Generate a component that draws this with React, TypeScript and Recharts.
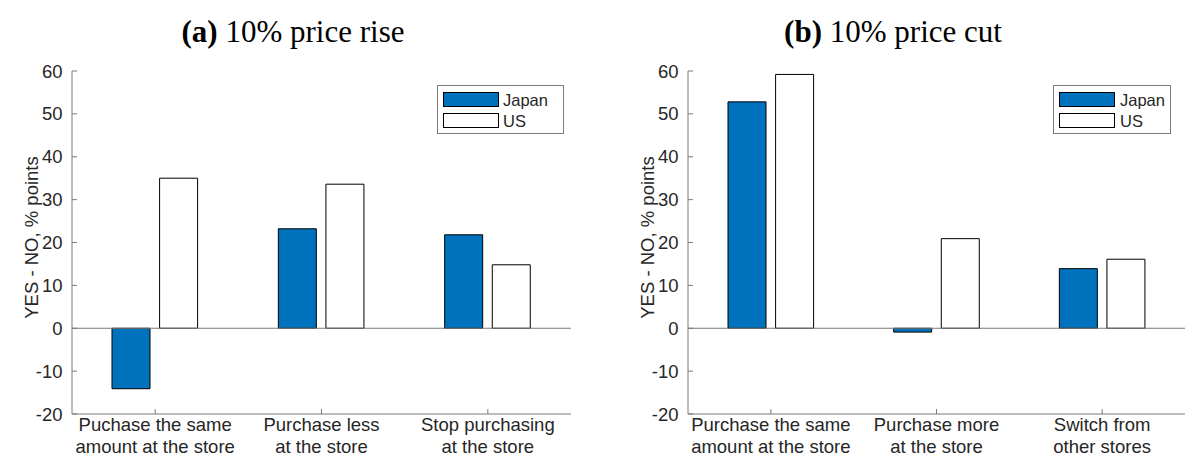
import React from 'react';
import { BarChart, Bar, XAxis, YAxis, ReferenceLine, Legend } from 'recharts';

// ---------- data ----------
const categoriesRise = ['Puchase the same\namount at the store', 'Purchase less\nat the store', 'Stop purchasing\nat the store'];
const japanRise = [-14.1, 23.2, 21.8];
const usRise = [35.0, 33.6, 14.8];

const categoriesCut = ['Purchase the same\namount at the store', 'Purchase more\nat the store', 'Switch from\nother stores'];
const japanCut = [52.8, -0.9, 13.9];
const usCut = [59.2, 20.9, 16.1];

const yTicks = [-20, -10, 0, 10, 20, 30, 40, 50, 60];
const yDomain = [-20, 60];
const seriesNames = ['Japan', 'US'];
const panelTags = ['(a)', '(b)'];
const panelTitles = ['10% price rise', '10% price cut'];
const yLabel = 'YES - NO, % points';

// ---------- style ----------
const SANS = '"Liberation Sans", Arial, Helvetica, sans-serif';
const SERIF = '"Liberation Serif", "Times New Roman", serif';
const AXIS = '#7a7a7a';
const TEXT = '#262626';
const JAPAN = '#0072BD';
const FS = 18.5;

const buildRows = (cats: string[], jp: number[], us: number[]) =>
  cats.map((c, i) => ({ name: c, japan: jp[i], us: us[i] }));

const XTick = (props: any) => {
  const { x, y, payload } = props;
  const lines = String(payload.value).split('\n');
  return (
    <g>
      {lines.map((l, i) => (
        <text key={i} x={x} y={y + 17 + i * 22} textAnchor="middle" fontFamily={SANS} fontSize={FS} fill={TEXT}>
          {l}
        </text>
      ))}
    </g>
  );
};

const EmptyTick = () => <g />;

type Box = { x: number; y: number; w: number; h: number; textX: number };

const makeLegend = (box: Box) => (props: any) => {
  const payload = props.payload || [];
  return (
    <div
      style={{
        width: box.w,
        height: box.h,
        border: `1px solid ${AXIS}`,
        background: '#fff',
        boxSizing: 'border-box',
        position: 'relative',
      }}
    >
      {payload.map((p: any, i: number) => (
        <React.Fragment key={i}>
          <div
            style={{
              position: 'absolute',
              left: 5,
              top: 6 + i * 20.7,
              width: 56,
              height: 15,
              background: p.color,
              border: '1px solid #000',
              boxSizing: 'border-box',
            }}
          />
          <div
            style={{
              position: 'absolute',
              left: box.textX,
              top: 4 + i * 20.7,
              height: 20,
              lineHeight: '20px',
              fontFamily: SANS,
              fontSize: 16.5,
              color: TEXT,
            }}
          >
            {p.value}
          </div>
        </React.Fragment>
      ))}
    </div>
  );
};

type PanelProps = {
  idx: number;
  rows: any[];
  left: number;
  marginLeft: number;
  marginRight: number;
  titleCenter: number;
  labelX: number;
  legend: Box;
};

const Panel = ({ idx, rows, left, marginLeft, marginRight, titleCenter, labelX, legend }: PanelProps) => {
  const W = 593;
  const H = 459;
  return (
    <div style={{ position: 'absolute', left, top: 0, width: W, height: H }}>
      <div
        style={{
          position: 'absolute',
          left: titleCenter - 200,
          width: 400,
          top: 14,
          height: 36,
          lineHeight: '36px',
          textAlign: 'center',
          fontFamily: SERIF,
          fontSize: 31,
          color: '#000',
          whiteSpace: 'nowrap',
        }}
      >
        <b>{panelTags[idx]}</b> {panelTitles[idx]}
      </div>
      <BarChart
        width={W}
        height={H}
        data={rows}
        margin={{ top: 71, right: marginRight, bottom: 0, left: marginLeft }}
        barSize={38}
        barGap={9.6}
      >
        <XAxis
          dataKey="name"
          height={45}
          tick={<XTick />}
          tickSize={-5}
          tickMargin={5}
          axisLine={{ stroke: AXIS }}
          tickLine={{ stroke: AXIS }}
          interval={0}
        />
        <XAxis
          xAxisId="top"
          dataKey="name"
          orientation="top"
          height={0}
          tick={<EmptyTick />}
          tickSize={-5}
          axisLine={{ stroke: AXIS }}
          tickLine={{ stroke: AXIS }}
          interval={0}
        />
        <YAxis
          domain={yDomain}
          ticks={yTicks}
          width={72}
          tickSize={-5}
          tickMargin={14.5}
          axisLine={{ stroke: AXIS }}
          tickLine={{ stroke: AXIS }}
          tick={{ fontFamily: SANS, fontSize: FS, fill: TEXT }}
          interval={0}
          label={{
            content: (p: any) => {
              const vb = p.viewBox || {};
              const cy = (vb.y ?? 71) + (vb.height ?? 343) / 2 - 5;
              return (
                <text
                  x={labelX}
                  y={cy}
                  transform={`rotate(-90, ${labelX}, ${cy})`}
                  textAnchor="middle"
                  fontFamily={SANS}
                  fontSize={FS}
                  fill={TEXT}
                >
                  {yLabel}
                </text>
              );
            },
          }}
        />
        <YAxis
          yAxisId="right"
          orientation="right"
          domain={yDomain}
          ticks={yTicks}
          width={0}
          tickSize={-5}
          tick={<EmptyTick />}
          axisLine={{ stroke: AXIS }}
          tickLine={{ stroke: AXIS }}
          interval={0}
        />
        <ReferenceLine y={0} stroke={AXIS} strokeWidth={1} />
        <Bar dataKey="japan" name={seriesNames[0]} fill={JAPAN} stroke="#000" strokeWidth={1} isAnimationActive={false} />
        <Bar dataKey="us" name={seriesNames[1]} fill="#ffffff" stroke="#000" strokeWidth={1} isAnimationActive={false} />
        <Legend
          layout="vertical"
          align="center"
          verticalAlign="middle"
          content={makeLegend(legend)}
          wrapperStyle={{ position: 'absolute', left: legend.x, top: legend.y, width: legend.w, height: legend.h, margin: 0 }}
        />
      </BarChart>
    </div>
  );
};

export default function App() {
  const rowsRise = buildRows(categoriesRise, japanRise, usRise);
  const rowsCut = buildRows(categoriesCut, japanCut, usCut);
  return (
    <div style={{ position: 'absolute', left: 0, top: 0, width: 1186, height: 459, background: '#fff', overflow: 'hidden' }}>
      <Panel
        idx={0}
        rows={rowsRise}
        left={0}
        marginLeft={0}
        marginRight={22}
        titleCenter={293}
        labelX={38}
        legend={{ x: 437, y: 85, w: 127, h: 49, textX: 65 }}
      />
      <Panel
        idx={1}
        rows={rowsCut}
        left={593}
        marginLeft={23}
        marginRight={1}
        titleCenter={300}
        labelX={61}
        legend={{ x: 460, y: 85, w: 118, h: 49, textX: 66 }}
      />
    </div>
  );
}
